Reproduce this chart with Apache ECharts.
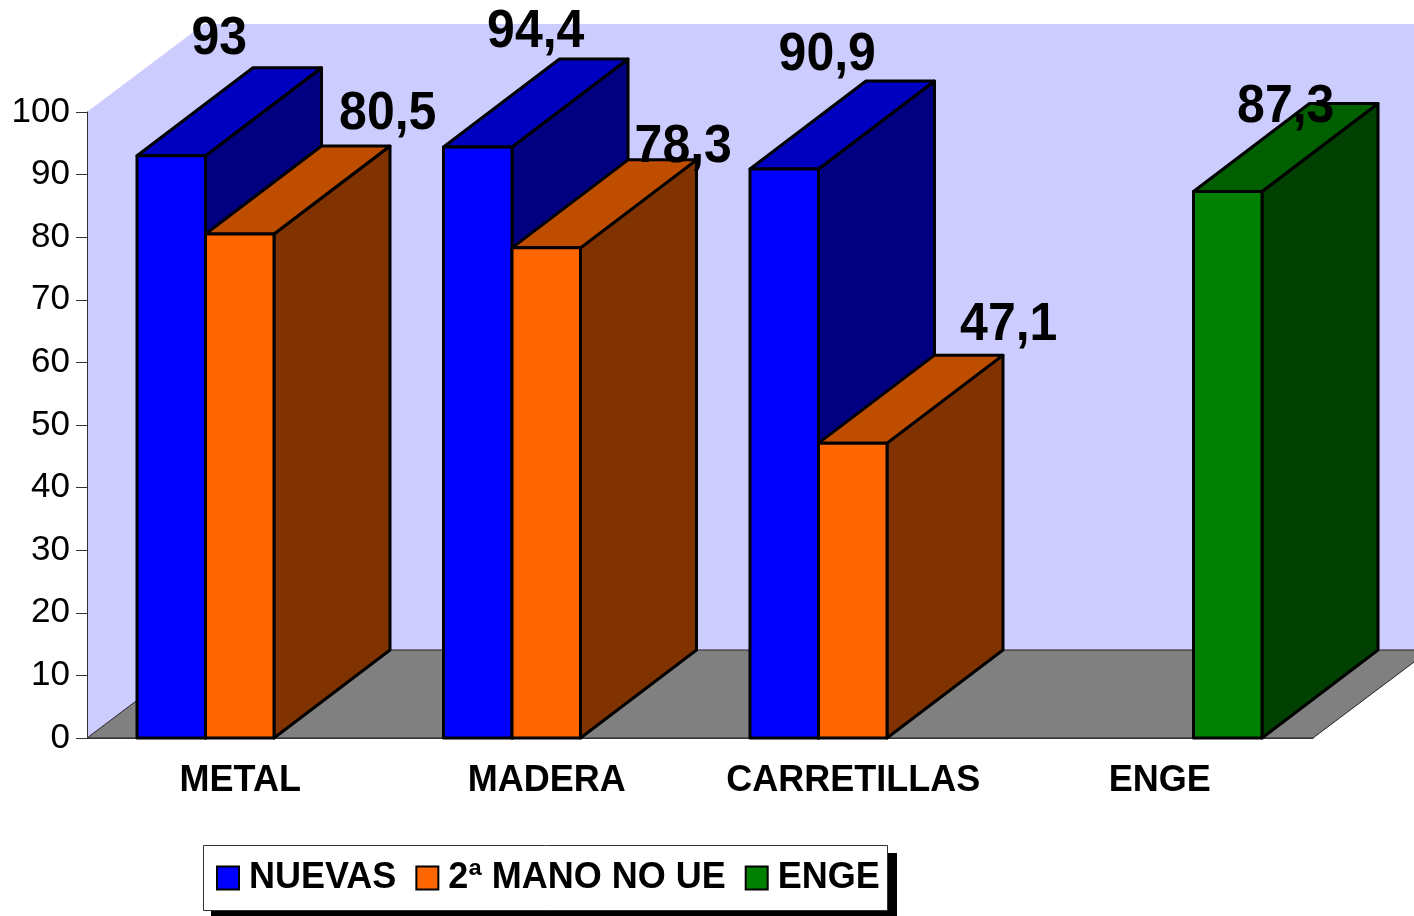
<!DOCTYPE html>
<html>
<head>
<meta charset="utf-8">
<script src="https://cdn.jsdelivr.net/npm/echarts@6/dist/echarts.min.js"></script>
<style>
html, body { margin: 0; padding: 0; background: #fff; }
#main { width: 1414px; height: 916px; }
</style>
</head>
<body>
<div id="main"></div>
<script>
var categories = ['METAL', 'MADERA', 'CARRETILLAS', 'ENGE'];
var nuevas = [93, 94.4, 90.9, null];
var segundaMano = [80.5, 78.3, 47.1, null];
var enge = [null, null, null, 87.3];
var yTicks = { min: 0, max: 100, interval: 10 };

// caras de cada barra: frente, arriba, lado
var blueFaces = ['#0000ff', '#0000c0', '#000080'];
var orangeFaces = ['#ff6600', '#bf4d00', '#803300'];
var greenFaces = ['#008000', '#006000', '#004000'];

// etiquetas colocadas a mano en el original: [dx, altura] desde el frente de la barra
var nuevasNudge = [[48, 117], [58, 115], [43, 114], null];
var manoNudge = [[148, 120], [137, 101], [156, 118], null];
var engeNudge = [null, null, null, [58, 84]];

var FONT = '"Liberation Sans", Arial, sans-serif';
var DEPTH_X = 116;
var DEPTH_Y = -88;
var GAP_RATIO = 50 / 306.5;
var BAR_RATIO = 68.5 / 306.5;

function toPairs(values) {
	return values.map(function(v, i) {
		return [i, v];
	});
}

function barSeries(name, values, faces, nudge, slot) {
	return {
		name: name,
		type: 'custom',
		z: 3,
		itemStyle: { color: faces[0], borderColor: '#000', borderWidth: 2.5 },
		encode: { x: 0, y: 1 },
		data: toPairs(values),
		renderItem: function(params, api) {
			var v = api.value(1);
			if (v === null || isNaN(v)) {
				return null;
			}
			var i = api.value(0);
			var band = api.size([1, 0])[0];
			var top = api.coord([i, v]);
			var base = api.coord([i, 0]);
			var w = band * BAR_RATIO;
			var x0 = top[0] - band / 2 + band * GAP_RATIO + slot * w;
			var x1 = x0 + w;
			function face(points, fill) {
				return {
					type: 'polygon',
					shape: { points: points },
					style: { fill: fill, stroke: '#000', lineWidth: 3, lineJoin: 'round' }
				};
			}
			var children = [
				face([[x1, base[1]], [x1 + DEPTH_X, base[1] + DEPTH_Y], [x1 + DEPTH_X, top[1] + DEPTH_Y], [x1, top[1]]], faces[2]),
				face([[x0, top[1]], [x0 + DEPTH_X, top[1] + DEPTH_Y], [x1 + DEPTH_X, top[1] + DEPTH_Y], [x1, top[1]]], faces[1]),
				face([[x0, base[1]], [x0, top[1]], [x1, top[1]], [x1, base[1]]], faces[0])
			];
			var n = nudge[i];
			if (n) {
				var tx = (x0 + x1) / 2 + n[0];
				var ty = top[1] - n[1];
				children.push({
					type: 'text',
					z2: 10,
					x: tx,
					y: ty,
					scaleY: 1.08,
					style: {
						text: String(v).replace('.', ','),
						x: 0,
						y: 0,
						align: 'center',
						verticalAlign: 'middle',
						fill: '#000',
						font: 'bold 50px ' + FONT
					}
				});
			}
			return { type: 'group', children: children };
		}
	};
}

// pared y suelo
var backdrop = {
	type: 'custom',
	z: 1,
	silent: true,
	data: [[0, 0]],
	encode: { x: 0, y: 1 },
	renderItem: function(params, api) {
		var g = params.coordSys;
		var l = g.x, r = g.x + g.width, t = g.y, b = g.y + g.height;
		return {
			type: 'group',
			children: [{
				type: 'polygon',
				shape: { points: [[l, t], [l + 117, t + DEPTH_Y], [r + 117, t + DEPTH_Y], [r + 117, b + DEPTH_Y], [l + 117, b + DEPTH_Y], [l, b]] },
				style: { fill: '#ccccff' }
			}, {
				type: 'polygon',
				shape: { points: [[l, b], [l + 117, b + DEPTH_Y], [r + 117, b + DEPTH_Y], [r, b]] },
				style: { fill: '#808080', stroke: '#222', lineWidth: 1 }
			}]
		};
	}
};

var myChart = echarts.init(document.getElementById('main'), null, { renderer: 'canvas' });
var option = {
	animation: false,
	backgroundColor: '#fff',
	grid: { left: 87, right: 101, top: 112, bottom: 178 },
	xAxis: {
		type: 'category',
		data: categories,
		z: 2,
		axisTick: { show: false },
		axisLine: { lineStyle: { color: '#333', width: 1 } },
		axisLabel: { interval: 0, margin: 25, color: '#000', fontFamily: FONT, fontWeight: 'bold', fontSize: 36 }
	},
	yAxis: {
		type: 'value',
		min: yTicks.min,
		max: yTicks.max,
		interval: yTicks.interval,
		z: 2,
		splitLine: { show: false },
		axisLine: { show: true, lineStyle: { color: '#333', width: 1 } },
		axisTick: { show: true, length: 11, lineStyle: { color: '#333', width: 1 } },
		axisLabel: { margin: 17, color: '#000', fontFamily: FONT, fontSize: 35 }
	},
	// caja de la leyenda con su sombra
	graphic: [{
		type: 'rect',
		z: 1,
		shape: { x: 211, y: 853, width: 686, height: 63 },
		style: { fill: '#000' }
	}, {
		type: 'rect',
		z: 2,
		shape: { x: 203.5, y: 845.5, width: 684, height: 65 },
		style: { fill: '#fff', stroke: '#333', lineWidth: 1 }
	}],
	legend: {
		left: 203,
		top: 846,
		orient: 'horizontal',
		data: ['NUEVAS', '2ª MANO NO UE', 'ENGE'],
		icon: 'rect',
		itemWidth: 22,
		itemHeight: 23,
		itemGap: 19,
		padding: [14, 13, 14, 13],
		textStyle: { color: '#000', fontFamily: FONT, fontWeight: 'bold', fontSize: 36, padding: [0, 0, 0, 5] }
	},
	series: [
		backdrop,
		barSeries('NUEVAS', nuevas, blueFaces, nuevasNudge, 0),
		barSeries('2ª MANO NO UE', segundaMano, orangeFaces, manoNudge, 1),
		barSeries('ENGE', enge, greenFaces, engeNudge, 2)
	]
};
myChart.setOption(option);
</script>
</body>
</html>
